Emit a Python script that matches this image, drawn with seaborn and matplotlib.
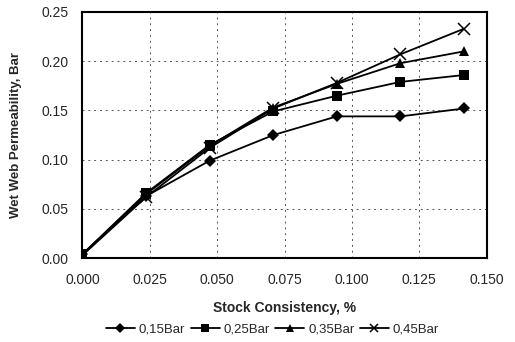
import pandas as pd
import matplotlib
matplotlib.use('Agg')
import matplotlib.pyplot as plt
import seaborn as sns

consistency = [0.0, 0.0236, 0.0472, 0.0708, 0.0944, 0.118, 0.1416]
bar_015 = [0.004, 0.063, 0.099, 0.125, 0.144, 0.144, 0.152]
bar_025 = [0.004, 0.066, 0.115, 0.149, 0.165, 0.179, 0.186]
bar_035 = [0.004, 0.065, 0.114, 0.153, 0.177, 0.198, 0.210]
bar_045 = [0.003, 0.062, 0.112, 0.152, 0.178, 0.207, 0.233]
labels = ['0,15Bar', '0,25Bar', '0,35Bar', '0,45Bar']
markers = ['D', 's', '^', 'x']
marker_sizes = [6, 7, 7, 8]


def build_df():
    rows = []
    for lab, vals in zip(labels, [bar_015, bar_025, bar_035, bar_045]):
        for x, y in zip(consistency, vals):
            rows.append({'x': x, 'y': y, 'series': lab})
    return pd.DataFrame(rows)


def draw_graph(df):
    sns.set_style('white')
    plt.rcParams['font.family'] = ['Liberation Sans', 'DejaVu Sans']
    fig, ax = plt.subplots(figsize=(5.15, 3.42), dpi=100)
    for lab, m, ms in zip(labels, markers, marker_sizes):
        d = df[df['series'] == lab]
        sns.lineplot(data=d, x='x', y='y', ax=ax, color='black', marker=m,
                     markersize=ms, markeredgecolor='black',
                     markeredgewidth=1.1 if m == 'x' else 0,
                     linewidth=1.3, label=lab)
    ax.set_xlim(0, 0.15)
    ax.set_ylim(0, 0.25)
    ax.set_xticks([0, 0.025, 0.05, 0.075, 0.1, 0.125, 0.15])
    ax.set_yticks([0, 0.05, 0.1, 0.15, 0.2, 0.25])
    ax.xaxis.set_major_formatter(matplotlib.ticker.FormatStrFormatter('%.3f'))
    ax.yaxis.set_major_formatter(matplotlib.ticker.FormatStrFormatter('%.2f'))
    ax.grid(True, color='#555555', linestyle=(0, (2, 4)), linewidth=0.7)
    for s in ax.spines.values():
        s.set_color('black')
        s.set_linewidth(1.5)
    ax.tick_params(axis='x', labelsize=10, length=0, pad=11)
    ax.tick_params(axis='y', labelsize=10, length=0, pad=10)
    ax.set_xlabel('Stock Consistency, %', fontsize=10, fontweight='bold', labelpad=10)
    ax.set_ylabel('Wet Web Permeability, Bar', fontsize=9.5, fontweight='bold', labelpad=14)
    ax.legend(loc='upper center', bbox_to_anchor=(0.47, -0.215), ncol=4, frameon=False,
              fontsize=9.5, handlelength=2.2, handletextpad=0.3, columnspacing=0.4,
              markerscale=0.8)
    fig.subplots_adjust(left=0.16, right=0.945, top=0.965, bottom=0.245)
    fig.savefig('out.png', dpi=100)


def main():
    df = build_df()
    draw_graph(df)


if __name__ == '__main__':
    main()
